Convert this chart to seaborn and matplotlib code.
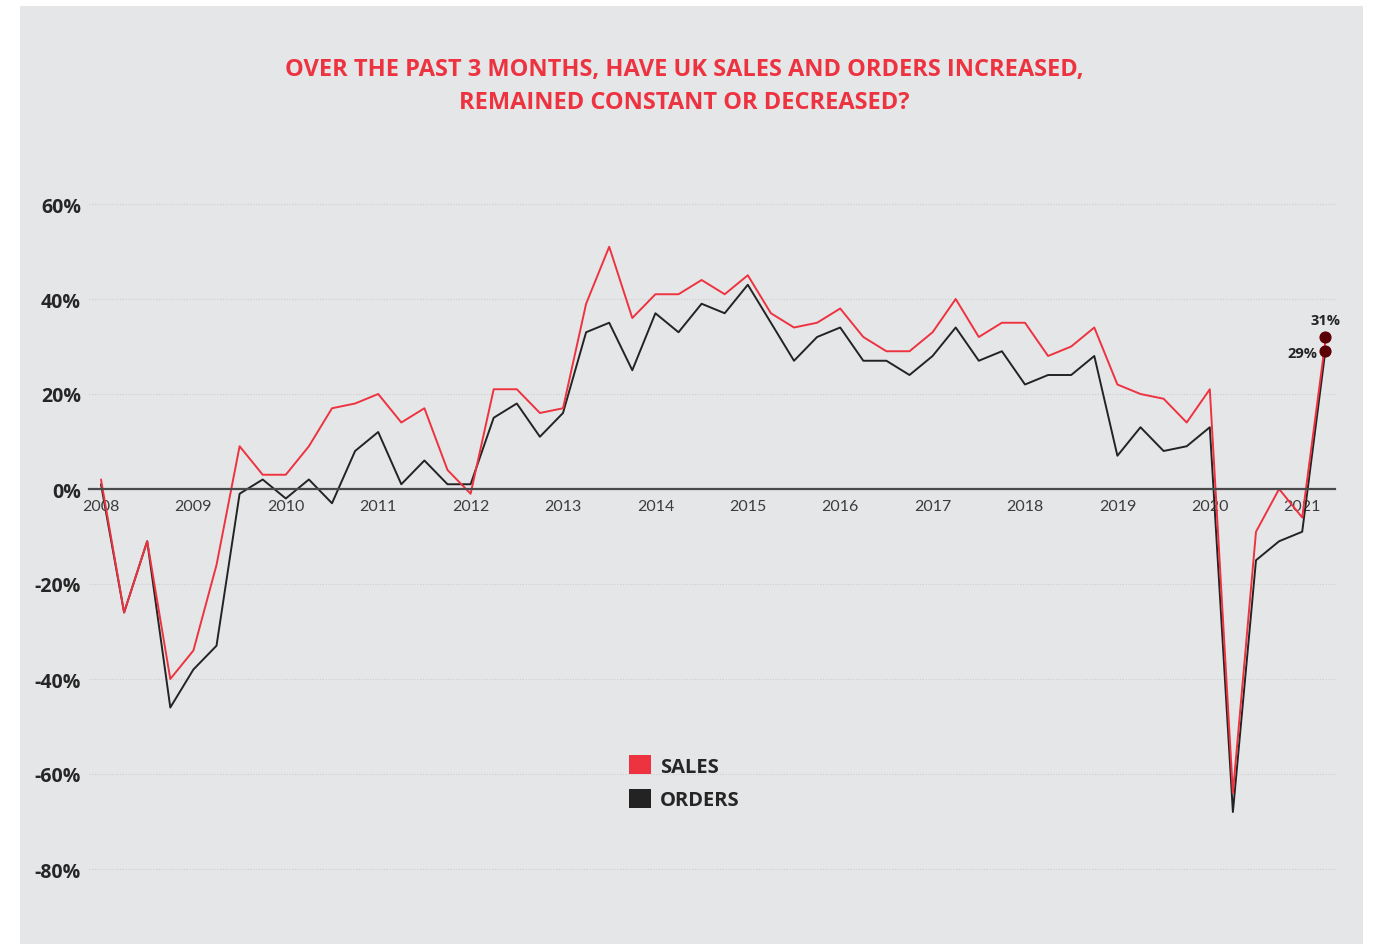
import numpy as np
import pandas as pd
import matplotlib
matplotlib.use("Agg")
import matplotlib.pyplot as plt
from matplotlib.patches import Patch, Rectangle
import seaborn as sns

# quarterly series, 2008 Q1 .. 2021 Q2 (values in %)
sales = [2, -26, -11, -40, -34, -16, 9, 3, 3, 9, 17, 18, 20, 14, 17, 4,
         -1, 21, 21, 16, 17, 39, 51, 36, 41, 41, 44, 41, 45, 37, 34, 35,
         38, 32, 29, 29, 33, 40, 32, 35, 35, 28, 30, 34, 22, 20, 19, 14,
         21, -64, -9, 0, -6, 31]
orders = [1, -26, -11, -46, -38, -33, -1, 2, -2, 2, -3, 8, 12, 1, 6, 1,
          1, 15, 18, 11, 16, 33, 35, 25, 37, 33, 39, 37, 43, 35, 27, 32,
          34, 27, 27, 24, 28, 34, 27, 29, 22, 24, 24, 28, 7, 13, 8, 9,
          13, -68, -15, -11, -9, 29]
years = list(range(2008, 2022))
y_ticks = [60, 40, 20, 0, -20, -40, -60, -80]

quarter = 2008 + np.arange(len(sales)) / 4
df = pd.DataFrame({"quarter": quarter, "SALES": sales, "ORDERS": orders})
df_long = df.melt(id_vars="quarter", var_name="serie", value_name="valore")

RED = "#ee3340"
DARK = "#232323"
BG = "#e5e6e8"
BOLD = ["Open Sans", "DejaVu Sans"]

sns.set_style("white")
plt.rcParams["font.family"] = ["Lato", "DejaVu Sans"]

W, H = 1373, 945
fig = plt.figure(figsize=(W / 100, H / 100), dpi=100)
fig.patch.set_facecolor("white")
fig.patches.append(Rectangle((20 / W, 0), (1363 - 20) / W, 1 - 7 / H,
                             transform=fig.transFigure, facecolor=BG,
                             edgecolor="none", zorder=-10))

# axes placed so that 0% sits at y=490px and 20% steps are 95px
ppu = 4.75
y0, y1 = -85, 65
top_px = 490 - y1 * ppu
bot_px = 490 - y0 * ppu
qpx = 23.1
x_left = 2008 - 0.5 / 4
x_right = 2008 + 53.4 / 4
left_px = 101 - 0.5 * qpx
right_px = 101 + 53.4 * qpx
ax = fig.add_axes([left_px / W, 1 - bot_px / H, (right_px - left_px) / W,
                   (bot_px - top_px) / H])
ax.set_facecolor("none")

sns.lineplot(data=df_long, x="quarter", y="valore", hue="serie",
             hue_order=["ORDERS", "SALES"], palette={"SALES": RED, "ORDERS": DARK},
             linewidth=1.4, legend=False, ax=ax)

ax.set_xlim(x_left, x_right)
ax.set_ylim(y0, y1)

for v in y_ticks:
    if v != 0:
        ax.axhline(v, color="#cdcdcf", lw=0.8, ls=(0, (1, 1.5)), zorder=0)

for s in ["top", "right", "left"]:
    ax.spines[s].set_visible(False)
ax.spines["bottom"].set_position(("data", 0))
ax.spines["bottom"].set_color("#4a4a4a")
ax.spines["bottom"].set_linewidth(1.6)

ax.set_xticks(years)
ax.set_xticklabels([str(y) for y in years])
ax.set_xticks(quarter, minor=True)
ax.tick_params(axis="x", which="both", direction="out", length=5, width=2,
               color="#3a3a3a", labelsize=11.5, labelcolor="#3c3c3c", pad=2)
ax.tick_params(axis="y", length=0, pad=6)
ax.set_yticks(y_ticks)
ax.set_yticklabels([f"{v}%" for v in y_ticks], fontsize=14, fontweight="bold",
                   color="#262626", family=BOLD)
ax.set_xlabel("")
ax.set_ylabel("")

# end points
ax.scatter([quarter[-1]] * 2, [sales[-1] + 1, orders[-1]], s=60,
           color="#5a0005", zorder=5, clip_on=False)
ax.annotate(f"{sales[-1]}%", (quarter[-1], sales[-1] + 1), xytext=(0, 7),
            textcoords="offset points", ha="center", va="bottom", family=BOLD,
            fontsize=10.5, fontweight="bold", color=DARK)
ax.annotate(f"{orders[-1]}%", (quarter[-1], orders[-1]), xytext=(-6, -1),
            textcoords="offset points", ha="right", va="center", family=BOLD,
            fontsize=10.5, fontweight="bold", color=DARK)

handles = [Patch(facecolor=RED, edgecolor="none", label="SALES"),
           Patch(facecolor=DARK, edgecolor="none", label="ORDERS")]
fig.legend(handles=handles, loc="upper left", bbox_to_anchor=(611 / W, 1 - 738 / H),
           frameon=False, handlelength=1.1, handleheight=1.1, handletextpad=0.45,
           labelspacing=0.6, prop={"size": 14.5, "weight": "bold", "family": BOLD},
           labelcolor="#262626")

fig.text(684 / W, 1 - 70 / H, "OVER THE PAST 3 MONTHS, HAVE UK SALES AND ORDERS INCREASED,",
         ha="center", va="center", fontsize=17, fontweight="bold", color=RED,
         family=BOLD)
fig.text(684 / W, 1 - 103 / H, "REMAINED CONSTANT OR DECREASED?",
         ha="center", va="center", fontsize=17, fontweight="bold", color=RED,
         family=BOLD)

fig.savefig("out.png", dpi=100, facecolor="white")
